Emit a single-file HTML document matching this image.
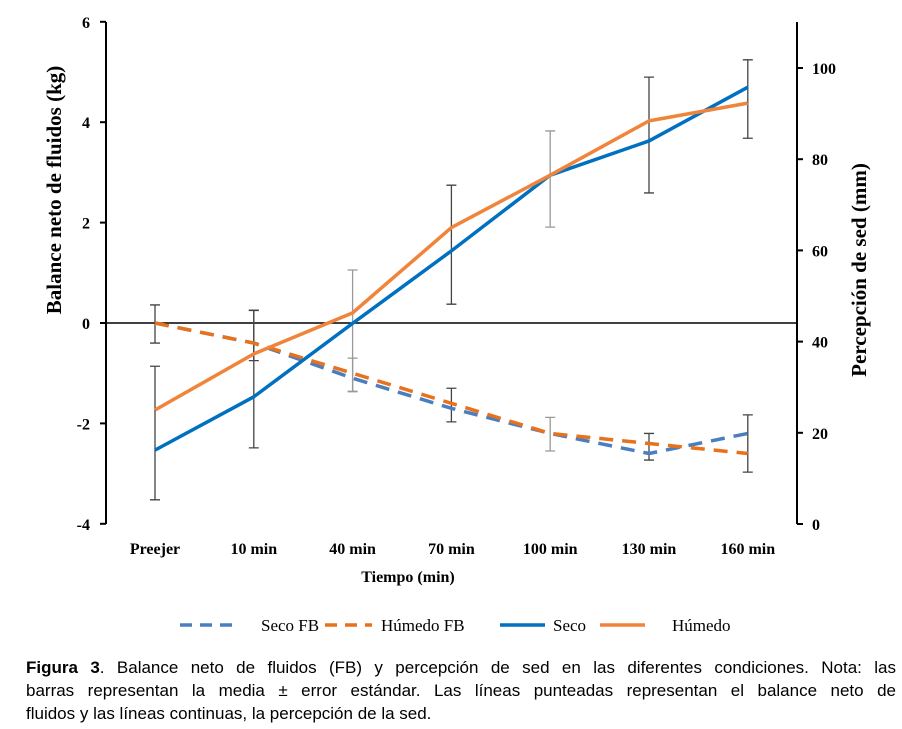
<!DOCTYPE html>
<html><head><meta charset="utf-8"><style>
body{margin:0;background:#fff;width:902px;height:729px;overflow:hidden;position:relative}
.cap{position:absolute;left:26px;top:656px;width:870px;font-family:"Liberation Sans",sans-serif;font-size:17px;line-height:23px;color:#000;white-space:nowrap}
.cap span{display:block;text-align:justify;text-align-last:justify}
.cap span.last{text-align-last:left}
</style></head><body>
<svg id="chart" width="902" height="650" style="position:absolute;left:0;top:0" font-family="Liberation Serif, serif"></svg>
<div class="cap"><span><b>Figura 3</b>. Balance neto de fluidos (FB) y percepción de sed en las diferentes condiciones. Nota: las</span><span>barras representan la media ± error estándar. Las líneas punteadas representan el balance neto de</span><span class="last">fluidos y las líneas continuas, la percepción de la sed.</span></div>
<script>
const categories=["Preejer","10 min","40 min","70 min","100 min","130 min","160 min"];
const secoFB=[0,-0.4,-1.1,-1.7,-2.2,-2.6,-2.2];
const humedoFB=[0,-0.4,-1.0,-1.6,-2.2,-2.4,-2.6];
const seco=[16.2,27.9,44,59.9,76.5,84,95.8];
const humedo=[25,37.3,46.3,65,76.5,88.4,92.3];
const fbErrTop=[0.36,0.25,-0.7,-1.3,-1.88,-2.2,-1.83];
const fbErrBot=[-0.4,-0.75,-1.36,-1.97,-2.55,-2.73,-2.97];
const sedErrTop=[34.6,46.9,55.7,74.3,86.2,98,101.8];
const sedErrBot=[5.3,16.7,29,48.2,65.1,72.6,84.6];
const leftTicks=[-4,-2,0,2,4,6];
const rightTicks=[0,20,40,60,80,100];

const svg=document.getElementById('chart');
const NS='http://www.w3.org/2000/svg';
function mk(t,a,txt){const e=document.createElementNS(NS,t);for(const k in a)e.setAttribute(k,a[k]);if(txt!==undefined)e.textContent=txt;svg.appendChild(e);return e;}
const yL=v=>323-(v)*50.2;
const yR=v=>524-v*4.56;
const x=i=>155+i*98.8;

let e;
e=mk('line',{x1:106,y1:22,x2:106,y2:524,stroke:'#000','stroke-width':2});

e=mk('line',{x1:797,y1:22,x2:797,y2:524,stroke:'#000','stroke-width':2});

e=mk('line',{x1:106,y1:yL(0),x2:797,y2:yL(0),stroke:'#000','stroke-width':1.5});

leftTicks.forEach(v=>{
 e=mk('line',{x1:100,y1:yL(v),x2:106,y2:yL(v),stroke:'#000','stroke-width':2});
 
 e=mk('text',{x:90,y:yL(v)+6,'text-anchor':'end','font-size':16,'font-weight':'bold'},v);
 
});
rightTicks.forEach(v=>{
 e=mk('line',{x1:797,y1:yR(v),x2:803,y2:yR(v),stroke:'#000','stroke-width':2});
 
 e=mk('text',{x:812,y:yR(v)+6,'font-size':16,'font-weight':'bold'},v);
 
});
categories.forEach((c,i)=>{
 e=mk('text',{x:x(i),y:554,'text-anchor':'middle','font-size':16,'font-weight':'bold'},c);
 
});
e=mk('text',{x:408,y:582,'text-anchor':'middle','font-size':16,'font-weight':'bold'},'Tiempo (min)');

e=mk('text',{x:0,y:0,transform:'translate(61,190) rotate(-90)','text-anchor':'middle','font-size':21,'font-weight':'bold'},'Balance neto de fluidos (kg)');

e=mk('text',{x:0,y:0,transform:'translate(866,270) rotate(-90)','text-anchor':'middle','font-size':21,'font-weight':'bold'},'Percepción de sed (mm)');


function line(vals,f,col,dash,name){
 const p=vals.map((v,i)=>x(i)+','+f(v)).join(' ');
 const a={points:p,fill:'none',stroke:col,'stroke-width':3.5,'stroke-linejoin':'round'};
 if(dash)a['stroke-dasharray']='14,9';
 e=mk('polyline',a);
 
}
function bars(top,bot,f,name){
 top.forEach((t,i)=>{
  const col=(i==2||i==4)?'#999':'#444';
  const X=x(i);
  e=mk('path',{d:`M${X},${f(t)}V${f(bot[i])}M${X-5},${f(t)}H${X+5}M${X-5},${f(bot[i])}H${X+5}`,stroke:col,'stroke-width':1.3,fill:'none'});
  
 });
}
bars(fbErrTop,fbErrBot,yL,'fb-error-bar');
bars(sedErrTop,sedErrBot,yR,'thirst-error-bar');
line(secoFB,yL,'#4a7ebf',true,'seco-fb-line');
line(humedoFB,yL,'#e8711c',true,'humedo-fb-line');
line(seco,yR,'#0070c0',false,'seco-line');
line(humedo,yR,'#f0843a',false,'humedo-line');

const legItems=[["Seco  FB",'#4a7ebf',true,180,232,261],["Húmedo FB",'#e8711c',true,325,372,381],["Seco",'#0070c0',false,500,545,553],["Húmedo",'#f0843a',false,600,645,672]];
legItems.forEach(l=>{
 const a={x1:l[3],y1:625,x2:l[4],y2:625,stroke:l[1],'stroke-width':3.5};
 if(l[2])a['stroke-dasharray']='12,8';
 e=mk('line',a);
 e=mk('text',{x:l[5],y:631,'font-size':17,'xml:space':'preserve'},l[0]);
 
});
</script>
</body></html>
